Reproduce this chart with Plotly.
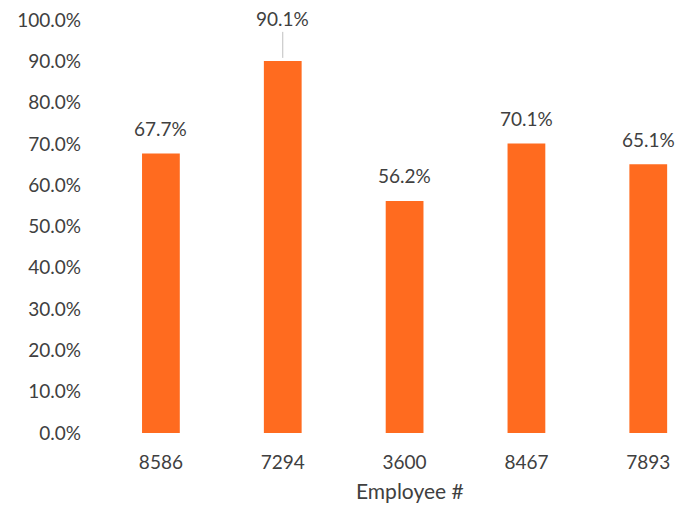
import plotly.graph_objects as go

employees = ["8586", "7294", "3600", "8467", "7893"]
scores = [0.677, 0.901, 0.562, 0.701, 0.651]
label_texts = ["67.7%", "90.1%", "56.2%", "70.1%", "65.1%"]

FONT = "Lato, Carlito, Calibri, sans-serif"
TXT = "#404040"
ORANGE = "#FF6B1F"

fig = go.Figure(go.Bar(
    x=employees, y=scores, width=0.31,
    marker=dict(color=ORANGE, line=dict(width=0)),
    hoverinfo="skip",
))

for i, (v, t) in enumerate(zip(scores, label_texts)):
    if i == 1:
        fig.add_annotation(x=i, y=v, text=t, showarrow=True, arrowhead=0,
                           arrowwidth=1, arrowcolor="#bfbfbf", ax=0, ay=-42,
                           standoff=3, font=dict(family=FONT, size=19, color=TXT))
    else:
        fig.add_annotation(x=i, y=v, text=t, showarrow=False, yshift=25,
                           font=dict(family=FONT, size=19, color=TXT))

fig.add_annotation(x=0.52, y=-0.174, xref="paper", yref="paper", text="Employee #",
                   showarrow=False, font=dict(family=FONT, size=21, color=TXT))

fig.update_layout(
    width=697, height=508,
    margin=dict(l=92, r=8, t=12, b=83, autoexpand=False),
    paper_bgcolor="white", plot_bgcolor="white",
    showlegend=False,
    font=dict(family=FONT, size=19, color=TXT),
    xaxis=dict(type="category", range=[-0.5, 4.4], showgrid=False, showline=False,
               zeroline=False, ticks="", ticklabelstandoff=16,
               tickfont=dict(family=FONT, size=19, color=TXT)),
    yaxis=dict(range=[0, 1], dtick=0.1, tickformat=".1%", showgrid=False,
               showline=False, zeroline=False, ticks="", ticklabelstandoff=18,
               ticklabeloverflow="allow", automargin=False,
               tickfont=dict(family=FONT, size=19, color=TXT)),
)

fig.write_html("out.html")
